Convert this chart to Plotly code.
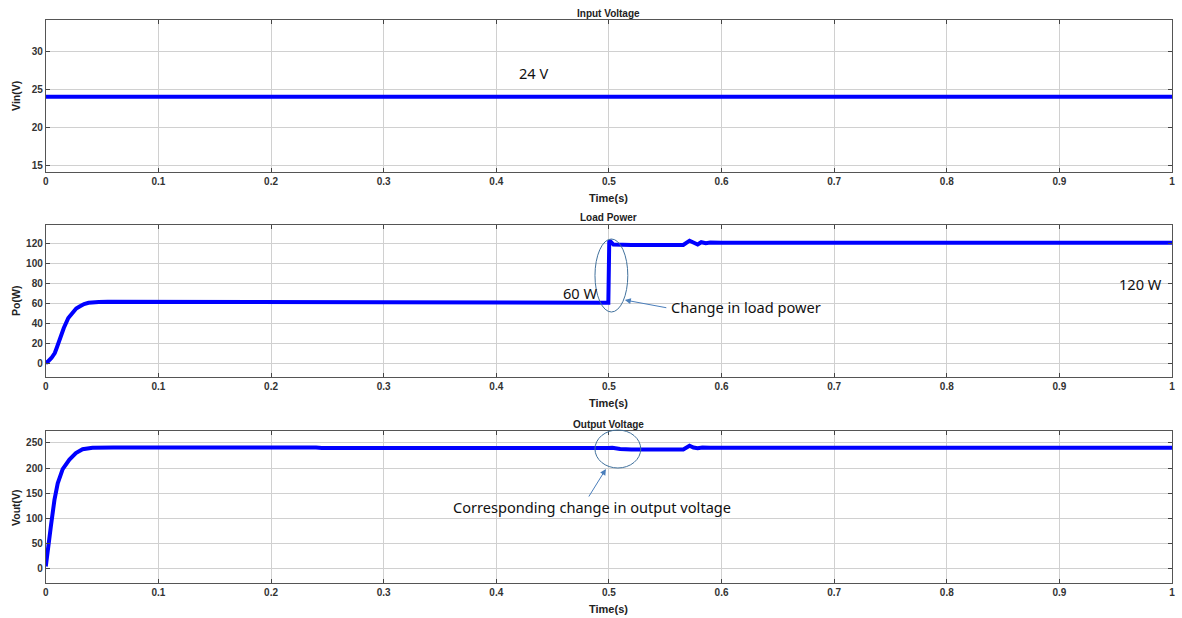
import plotly.graph_objects as go

W, H = 1182, 618

# ---- data ----
t_vin = [0.0, 1.0]
vin = [24.0, 24.0]

t_po = [0.0, 0.002, 0.005, 0.008, 0.01, 0.013, 0.016, 0.02, 0.024, 0.027, 0.03, 0.034, 0.038, 0.042,
        0.047, 0.055, 0.24, 0.245, 0.4995, 0.5003, 0.5015, 0.504, 0.52, 0.566, 0.569, 0.5716, 0.575,
        0.5788, 0.582, 0.586, 0.59, 0.6, 1.0]
po = [0.0, 1.5, 5.0, 10.0, 16.0, 26.0, 35.0, 45.0, 51.0, 54.5, 56.5, 59.0, 60.2, 60.7,
      61.0, 61.2, 61.0, 60.3, 60.3, 121.0, 121.5, 118.5, 118.0, 118.0, 120.5, 122.3, 120.5,
      118.5, 120.8, 119.8, 120.5, 120.3, 120.3]

t_vout = [0.0, 0.001, 0.0025, 0.0047, 0.0077, 0.0106, 0.015, 0.021, 0.0267, 0.0327, 0.0415, 0.05, 0.06,
          0.24, 0.245, 0.4995, 0.503, 0.51, 0.52, 0.566, 0.569, 0.5716, 0.575, 0.5788, 0.583, 0.59, 1.0]
vout = [5.0, 20.0, 50.0, 88.0, 137.0, 170.0, 198.0, 217.0, 230.0, 237.5, 240.5, 241.0, 241.0,
        241.0, 240.0, 240.0, 240.5, 238.0, 237.0, 237.0, 241.0, 244.5, 241.0, 239.5, 241.0, 240.5, 240.5]

x_ticks = [0, 0.1, 0.2, 0.3, 0.4, 0.5, 0.6, 0.7, 0.8, 0.9, 1]
x_ticklabels = ["0", "0.1", "0.2", "0.3", "0.4", "0.5", "0.6", "0.7", "0.8", "0.9", "1"]
vin_ticks = [15, 20, 25, 30]
po_ticks = [0, 20, 40, 60, 80, 100, 120]
vout_ticks = [0, 50, 100, 150, 200, 250]

panel_titles = ["Input Voltage", "Load Power", "Output Voltage"]
y_titles = ["Vin(V)", "Po(W)", "Vout(V)"]

# ---- layout helpers (pixel -> paper) ----
def px(x):
    return x / W

def py(y):
    return 1 - y / H

X0, X1 = 43, 1175
panels = [(20, 172), (225, 377), (431, 583)]
ranges = [[14.1, 34.1], [-14, 138], [-27.8, 273.8]]
yticks = [vin_ticks, po_ticks, vout_ticks]

BLUE = "#0000ff"
fig = go.Figure()
series = [(t_vin, vin), (t_po, po), (t_vout, vout)]
for i, (tx, ty) in enumerate(series):
    fig.add_trace(go.Scatter(x=tx, y=ty, mode="lines",
                             line=dict(color=BLUE, width=4),
                             xaxis="x" if i == 0 else f"x{i+1}",
                             yaxis="y" if i == 0 else f"y{i+1}",
                             showlegend=False, hoverinfo="skip"))

FAM = "Liberation Sans, Arial, sans-serif"
tick_font = dict(family=FAM, size=10, color="#333333")
title_font = dict(family=FAM, size=10, color="#222222")
label_font = dict(family=FAM, size=11, color="#222222")
ylabel_font = dict(family=FAM, size=10.5, color="#222222")

layout = dict(width=W, height=H, margin=dict(l=0, r=0, t=0, b=0),
              paper_bgcolor="white", plot_bgcolor="white", showlegend=False)
annotations = []
shapes = []
for i, ((top, bot), rng, yt) in enumerate(zip(panels, ranges, yticks)):
    xa = "xaxis" if i == 0 else f"xaxis{i+1}"
    ya = "yaxis" if i == 0 else f"yaxis{i+1}"
    yname = "y" if i == 0 else f"y{i+1}"
    xname = "x" if i == 0 else f"x{i+1}"
    layout[xa] = dict(domain=[px(X0), px(X1)], range=[0, 1], anchor=yname,
                      tickvals=x_ticks, ticktext=[f"<b>{s}</b>" for s in x_ticklabels],
                      tickfont=tick_font, ticks="inside", ticklen=4, tickcolor="#444",
                      showgrid=True, gridcolor="#d0d0d0", gridwidth=1,
                      showline=True, linecolor="#555", linewidth=1, mirror="ticks",
                      zeroline=False, fixedrange=True)
    layout[ya] = dict(domain=[py(bot), py(top)], range=rng, anchor=xname,
                      tickvals=yt, ticktext=[f"<b>{v}</b>" for v in yt],
                      tickfont=tick_font, ticks="inside", ticklen=4, tickcolor="#444",
                      showgrid=True, gridcolor="#d0d0d0", gridwidth=1,
                      showline=True, linecolor="#555", linewidth=1, mirror="ticks",
                      zeroline=False, fixedrange=True)
    # panel title
    annotations.append(dict(x=px((X0 + X1) / 2), y=py(top - 7), xref="paper", yref="paper",
                            text=f"<b>{panel_titles[i]}</b>", showarrow=False,
                            font=title_font, xanchor="center", yanchor="middle"))
    # x-axis title
    annotations.append(dict(x=px((X0 + X1) / 2), y=py(bot + 26), xref="paper", yref="paper",
                            text="<b>Time(s)</b>", showarrow=False,
                            font=label_font, xanchor="center", yanchor="middle"))
    # y-axis title
    annotations.append(dict(x=px(13), y=py((top + bot) / 2), xref="paper", yref="paper",
                            text=f"<b>{y_titles[i]}</b>", showarrow=False, textangle=-90,
                            font=ylabel_font, xanchor="center", yanchor="middle"))

note_font = dict(family="Noto Sans, Open Sans, sans-serif", size=14.6, color="#111111")
annotations += [
    dict(x=px(533), y=py(73), xref="paper", yref="paper", text="24 V", showarrow=False,
         font=note_font, xanchor="center", yanchor="middle"),
    dict(x=px(580), y=py(293), xref="paper", yref="paper", text="60 W", showarrow=False,
         font=note_font, xanchor="center", yanchor="middle"),
    dict(x=px(1143), y=py(284), xref="paper", yref="paper", text="120 W", showarrow=False,
         font=note_font, xanchor="center", yanchor="middle"),
    dict(x=px(669), y=py(307), xref="paper", yref="paper", text="Change in load power",
         showarrow=False, font=note_font, xanchor="left", yanchor="middle"),
    dict(x=px(592), y=py(507), xref="paper", yref="paper",
         text="Corresponding change in output voltage",
         showarrow=False, font=note_font, xanchor="center", yanchor="middle"),
    dict(x=px(625), y=py(300), xref="paper", yref="paper", text="", showarrow=True,
         ax=43, ay=8, axref="pixel", ayref="pixel", arrowhead=2, arrowsize=1.2,
         arrowwidth=1, arrowcolor="#4a7ebb"),
    dict(x=px(606), y=py(469), xref="paper", yref="paper", text="", showarrow=True,
         ax=-18, ay=29, axref="pixel", ayref="pixel", arrowhead=2, arrowsize=1.2,
         arrowwidth=1, arrowcolor="#4a7ebb"),
]
shapes += [
    dict(type="circle", xref="paper", yref="paper", x0=px(595), x1=px(628),
         y0=py(312), y1=py(239), line=dict(color="#41719c", width=1)),
    dict(type="circle", xref="paper", yref="paper", x0=px(595), x1=px(641),
         y0=py(468), y1=py(430), line=dict(color="#41719c", width=1)),
]
layout["annotations"] = annotations
layout["shapes"] = shapes
fig.update_layout(**layout)
fig.write_html("out.html")
